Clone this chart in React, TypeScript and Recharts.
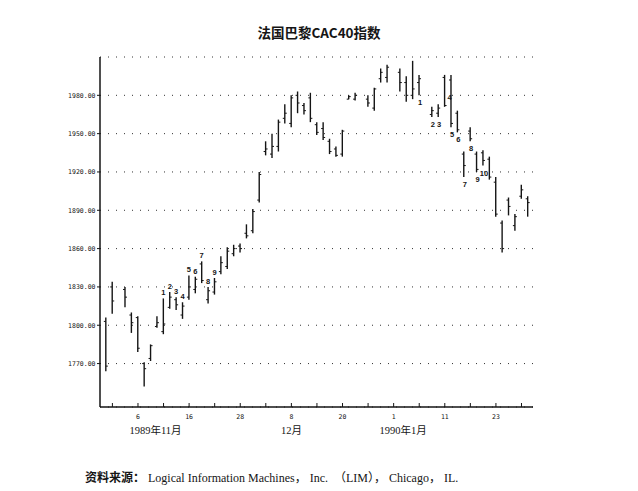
import React from 'react';
import { ComposedChart, Bar, XAxis, YAxis, CartesianGrid } from 'recharts';

// trading-day slot (0 = first bar); holidays leave empty slots
const days = [0, 1, 3, 4, 5, 6, 7, 8, 9, 10, 11, 12, 13, 14, 15, 16, 17, 18, 19, 20, 21, 22, 23, 24, 25, 26, 27, 28, 29, 30, 31, 32, 33, 34, 35, 36, 37, 38, 39, 41, 42, 43, 44, 46, 47, 48, 49, 51, 52, 53, 54, 55, 56, 57, 58, 59, 60, 61, 62, 63, 64, 65, 66];
const highs = [1806, 1834, 1830, 1810, 1807, 1771, 1785, 1807, 1821, 1826, 1822, 1818, 1839, 1838, 1850, 1830, 1837, 1854, 1861, 1863, 1864, 1879, 1891, 1920, 1944, 1950, 1961, 1973, 1980, 1983, 1974, 1982, 1959, 1959, 1946, 1940, 1953, 1980, 1982, 1980, 1986, 2001, 2004, 2001, 1995, 2007, 1996, 1971, 1973, 1996, 1996, 1968, 1936, 1955, 1936, 1937, 1932, 1916, 1882, 1900, 1887, 1910, 1901];
const lows = [1764, 1809, 1814, 1794, 1779, 1752, 1772, 1798, 1793, 1813, 1812, 1805, 1820, 1825, 1833, 1817, 1824, 1840, 1844, 1854, 1857, 1868, 1872, 1896, 1933, 1931, 1936, 1958, 1955, 1966, 1965, 1959, 1949, 1945, 1934, 1932, 1932, 1977, 1976, 1971, 1968, 1990, 1990, 1983, 1975, 1977, 1980, 1963, 1963, 1971, 1955, 1951, 1916, 1944, 1920, 1925, 1914, 1885, 1857, 1886, 1874, 1899, 1885];
const opens = [1803, 1830, 1828, 1808, 1806, 1770, 1774, 1799, 1795, 1814, 1820, 1808, 1822, 1828, 1848, 1820, 1826, 1842, 1846, 1856, 1862, 1872, 1874, 1898, 1936, 1934, 1940, 1962, 1958, 1980, 1972, 1978, 1957, 1954, 1944, 1938, 1934, 1977, 1977, 1977, 1970, 1993, 1994, 1998, 1990, 1980, 1990, 1965, 1966, 1994, 1992, 1966, 1934, 1952, 1934, 1935, 1930, 1912, 1880, 1898, 1878, 1901, 1899];
const closes = [1768, 1819, 1822, 1802, 1782, 1766, 1784, 1802, 1801, 1822, 1816, 1815, 1830, 1836, 1835, 1827, 1834, 1849, 1858, 1860, 1860, 1870, 1889, 1918, 1938, 1940, 1959, 1966, 1978, 1974, 1968, 1962, 1951, 1947, 1936, 1933, 1952, 1979, 1980, 1974, 1985, 1998, 2002, 1990, 1980, 1985, 1993, 1968, 1970, 1972, 1958, 1953, 1925, 1946, 1922, 1929, 1916, 1887, 1860, 1893, 1885, 1906, 1896];

// wave counts written on the chart
const riseCount: Record<number, string> = { 9: '1', 10: '2', 11: '3', 12: '4', 13: '5', 14: '6', 15: '7', 16: '8', 17: '9' };
const fallCount: Record<number, string> = { 49: '1', 51: '2', 52: '3', 53: '4', 54: '5', 55: '6', 56: '7', 57: '8', 58: '9', 59: '10' };

const yTicks = [1770, 1800, 1830, 1860, 1890, 1920, 1950, 1980];
const majorTicks = [1, 5, 9, 13, 17, 21, 25, 29, 33, 37, 41, 45, 49, 53, 57, 61, 65];
const dayLabels: Record<number, string> = { 5: '6', 13: '16', 21: '28', 29: '8', 37: '20', 45: '1', 53: '11', 61: '23' };
const monthLabels: Record<number, string> = { 7.75: '1989年11月', 29: '12月', 46.5: '1990年1月' };

const allTicks = Array.from(new Set([...majorTicks, ...Object.keys(monthLabels).map(Number)])).sort((a, b) => a - b);

const rows = days.map((d, k) => ({
  day: d,
  range: [lows[k], highs[k]],
  open: opens[k],
  high: highs[k],
  low: lows[k],
  close: closes[k],
  rise: riseCount[d],
  fall: fallCount[d],
}));

const INK = '#151515';

const OhlcShape = (props: any) => {
  const { x, y, width, height, payload } = props;
  if (x == null || y == null) return null;
  const top = Math.min(y, y + height);
  const h = Math.abs(height);
  const cx = x + width / 2;
  const span = payload.high - payload.low || 1;
  const yOf = (v: number) => top + ((payload.high - v) / span) * h;
  const yo = yOf(payload.open);
  const yc = yOf(payload.close);
  const labelStyle = { fontFamily: 'Liberation Sans, Arial, sans-serif', fontSize: 7.5, fontWeight: 700, fill: INK } as const;
  return (
    <g>
      <line x1={cx} x2={cx} y1={top} y2={top + h} stroke={INK} strokeWidth={1.4} />
      <line x1={cx - 2} x2={cx} y1={yo} y2={yo} stroke={INK} strokeWidth={1} />
      <line x1={cx} x2={cx + 2} y1={yc} y2={yc} stroke={INK} strokeWidth={1} />
      {payload.rise && (
        <text x={cx} y={top - 3} textAnchor="middle" {...labelStyle}>{payload.rise}</text>
      )}
      {payload.fall && payload.fall === '4' && (
        <text x={cx + 3} y={top + h / 2 + 9} textAnchor="start" {...labelStyle}>{payload.fall}</text>
      )}
      {payload.fall && payload.fall !== '4' && (
        <text x={cx + 1} y={top + h + 10} textAnchor="middle" {...labelStyle}>{payload.fall}</text>
      )}
    </g>
  );
};

const XTick = (props: any) => {
  const { x, y, payload } = props;
  const v = payload.value;
  const isMajor = majorTicks.includes(v);
  return (
    <g>
      {isMajor && <line x1={x} x2={x} y1={y} y2={y - 4} stroke={INK} strokeWidth={1} />}
      {dayLabels[v] && (
        <text x={x} y={y + 12} textAnchor="middle" fontFamily="DejaVu Sans Mono, monospace" fontSize={6.5} fill={INK}>
          {dayLabels[v]}
        </text>
      )}
      {monthLabels[v] && (
        <text x={x} y={y + 27} textAnchor="middle" fontFamily="Liberation Serif, Noto Sans CJK SC, serif" fontSize={10.5} fill={INK}>
          {monthLabels[v]}
        </text>
      )}
    </g>
  );
};

export default function App() {
  return (
    <div style={{ position: 'absolute', left: 0, top: 0, width: 638, height: 491, background: '#fff' }}>
      <ComposedChart
        width={638}
        height={491}
        data={rows}
        margin={{ top: 57, right: 105, bottom: 54, left: 40 }}
      >
        <CartesianGrid vertical={false} stroke="#333" strokeDasharray="1 7" strokeWidth={1} />
        <XAxis
          dataKey="day"
          type="number"
          domain={[-0.94, 66.8]}
          ticks={allTicks}
          interval={0}
          tick={<XTick />}
          tickLine={false}
          tickSize={0}
          tickMargin={0}
          height={30}
          axisLine={{ stroke: INK, strokeWidth: 1.5 }}
          allowDataOverflow
        />
        <YAxis
          type="number"
          domain={[1736, 2010]}
          ticks={yTicks}
          width={60}
          tickSize={3}
          tickMargin={1.5}
          tickFormatter={(v: number) => v.toFixed(2)}
          tick={{ fontFamily: 'DejaVu Sans Mono, monospace', fontSize: 6.5, fill: INK }}
          tickLine={{ stroke: INK }}
          axisLine={{ stroke: INK, strokeWidth: 1.5 }}
          allowDataOverflow
        />
        <Bar dataKey="range" barSize={4} shape={<OhlcShape />} isAnimationActive={false} />
      </ComposedChart>
      <svg width={638} height={491} style={{ position: 'absolute', left: 0, top: 0, pointerEvents: 'none' }}>
        <text x={319} y={38} textAnchor="middle" fontFamily="Noto Sans CJK SC, sans-serif" fontSize={13.5} fontWeight={700} fill={INK}>
          法国巴黎CAC40指数
        </text>
        <text x={85} y={482} fontSize={12} fill={INK} style={{ whiteSpace: 'pre' }}>
          <tspan fontFamily="Noto Sans CJK SC, sans-serif" fontWeight={700}>资料来源：</tspan>
          <tspan fontFamily="Liberation Serif, Noto Sans CJK SC, serif">{' Logical Information Machines， Inc.  （LIM）， Chicago， IL.'}</tspan>
        </text>
      </svg>
    </div>
  );
}
